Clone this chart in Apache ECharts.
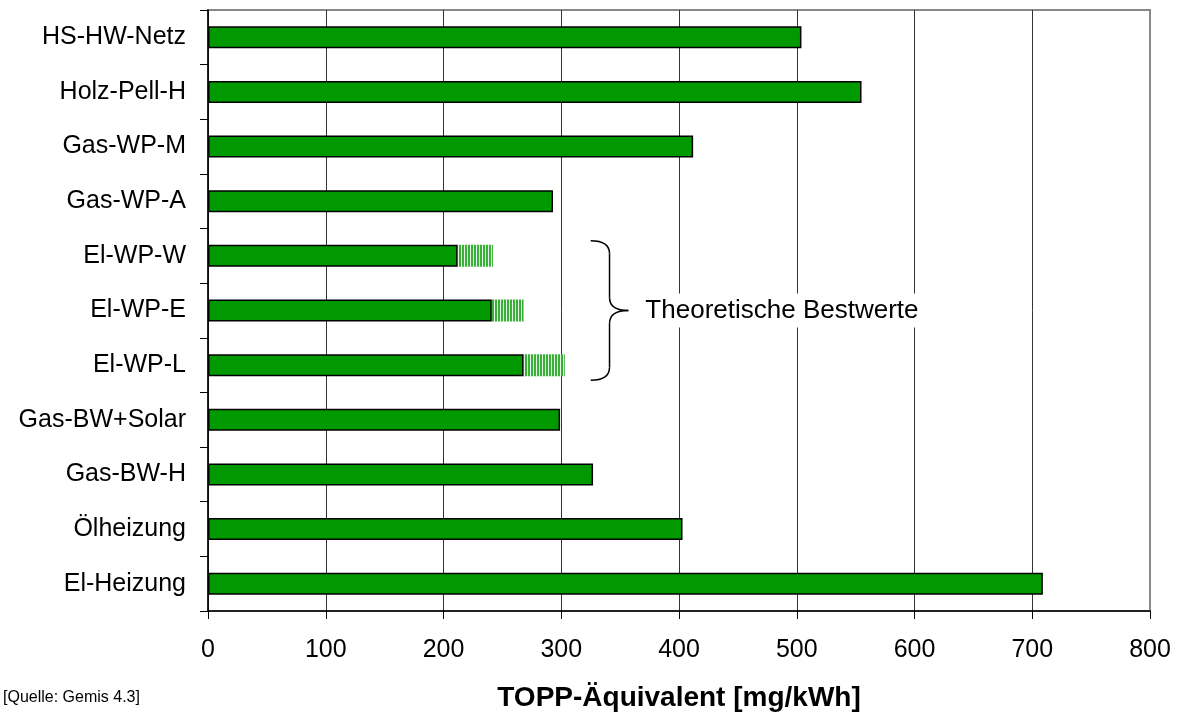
<!DOCTYPE html>
<html>
<head>
<meta charset="utf-8">
<script src="https://cdn.jsdelivr.net/npm/echarts@6/dist/echarts.min.js"></script>
<style>
html,body{margin:0;padding:0;background:#fff;}
#chart{width:1181px;height:717px;}
</style>
</head>
<body>
<div id="chart"></div>
<script>
// ---- data ----
const categories = ['HS-HW-Netz','Holz-Pell-H','Gas-WP-M','Gas-WP-A','El-WP-W','El-WP-E','El-WP-L','Gas-BW+Solar','Gas-BW-H','Ölheizung','El-Heizung'];
const values = [504, 555, 412, 293, 212, 241, 268, 299, 327, 403, 709];
const bestRange = [null, null, null, null, 30, 27, 35, null, null, null, null];
const xTicks = [0, 100, 200, 300, 400, 500, 600, 700, 800];
const axisTitle = 'TOPP-Äquivalent [mg/kWh]';
const sourceText = '[Quelle: Gemis 4.3]';
const noteText = 'Theoretische Bestwerte';
const noteCategories = ['El-WP-W', 'El-WP-L'];
const braceX = [325, 357];  // value-axis positions of brace back and tip

// hatch pattern
const pc = document.createElement('canvas');
pc.width = 3; pc.height = 4;
const pctx = pc.getContext('2d');
pctx.fillStyle = '#e2f4e2'; pctx.fillRect(0, 0, 3, 4);
pctx.fillStyle = '#3aaf3a';
pctx.fillRect(0, 0, 2, 4);

const chart = echarts.init(document.getElementById('chart'), null, {renderer: 'canvas'});
const FONT = '"Liberation Sans", Arial, sans-serif';

chart.setOption({
  animation: false,
  backgroundColor: '#fff',
  grid: {left: 208, right: 31, top: 10, bottom: 105, show: true, borderColor: '#888', borderWidth: 2, backgroundColor: 'transparent'},
  xAxis: {
    type: 'value', min: xTicks[0], max: xTicks[xTicks.length - 1], interval: 100,
    axisLine: {show: true, lineStyle: {color: '#000', width: 1.5}},
    axisTick: {show: true, length: 8, lineStyle: {color: '#000', width: 1}},
    axisLabel: {color: '#000', fontSize: 25, fontFamily: FONT, margin: 27},
    splitLine: {show: true, lineStyle: {color: ['#333','#333','#333','#333','#333','#333','#333','#333','#888'], width: 1}},
    name: axisTitle, nameLocation: 'middle', nameGap: 73,
    nameTextStyle: {color: '#000', fontSize: 28, fontWeight: 'bold', fontFamily: FONT}
  },
  yAxis: {
    type: 'category', data: categories, inverse: true,
    axisLine: {show: true, lineStyle: {color: '#000', width: 1.5}},
    axisTick: {show: true, length: 8, lineStyle: {color: '#000', width: 1}},
    axisLabel: {color: '#000', fontSize: 25, fontFamily: FONT, margin: 22},
    splitLine: {show: false}
  },
  series: [
    {
      type: 'bar', stack: 'a', data: values, barWidth: 22,
      itemStyle: {color: '#009900', borderColor: '#000', borderWidth: 1.5},
      z: 3
    },
    {
      type: 'bar', stack: 'a', data: bestRange, barWidth: 22,
      itemStyle: {color: {image: pc, repeat: 'repeat'}, borderWidth: 0},
      z: 2
    }
  ]
});

// brace annotation, positioned through the axes
const yTop = chart.convertToPixel({yAxisIndex: 0}, noteCategories[0]) - 15;
const yBot = chart.convertToPixel({yAxisIndex: 0}, noteCategories[1]) + 15;
const yMid = (yTop + yBot) / 2;
const x0 = chart.convertToPixel({xAxisIndex: 0}, braceX[0]);
const x2 = chart.convertToPixel({xAxisIndex: 0}, braceX[1]);
const x1 = x0 + (x2 - x0) * 0.5;
const ls = {stroke: '#000', lineWidth: 1.5, fill: null};
function bz(ax, ay, c1x, c1y, c2x, c2y, bx, by) {
  return {type: 'bezierCurve', shape: {x1: ax, y1: ay, cpx1: c1x, cpy1: c1y, cpx2: c2x, cpy2: c2y, x2: bx, y2: by}, style: ls, z: 10};
}
function ln(ax, ay, bx, by) {
  return {type: 'line', shape: {x1: ax, y1: ay, x2: bx, y2: by}, style: ls, z: 10};
}
chart.setOption({
  graphic: [
    {type: 'text', left: 3, top: 690, style: {text: sourceText, fontSize: 16, fontFamily: FONT, fill: '#000'}},
    bz(x0, yTop, x0 + 12, yTop, x1, yTop + 4, x1, yTop + 13),
    ln(x1, yTop + 13, x1, yMid - 13),
    bz(x1, yMid - 13, x1, yMid - 4, x1 + 6, yMid, x2, yMid),
    bz(x2, yMid, x1 + 6, yMid, x1, yMid + 4, x1, yMid + 13),
    ln(x1, yMid + 13, x1, yBot - 13),
    bz(x1, yBot - 13, x1, yBot - 4, x0 + 12, yBot, x0, yBot),
    {type: 'rect', shape: {x: x2 + 10, y: yMid - 17, width: 285, height: 34}, style: {fill: '#fff'}, z: 9},
    {type: 'text', x: x2 + 17, y: yMid, style: {text: noteText, fontSize: 26, fontFamily: FONT, fill: '#000', verticalAlign: 'middle'}, z: 11}
  ]
});
</script>
</body>
</html>
